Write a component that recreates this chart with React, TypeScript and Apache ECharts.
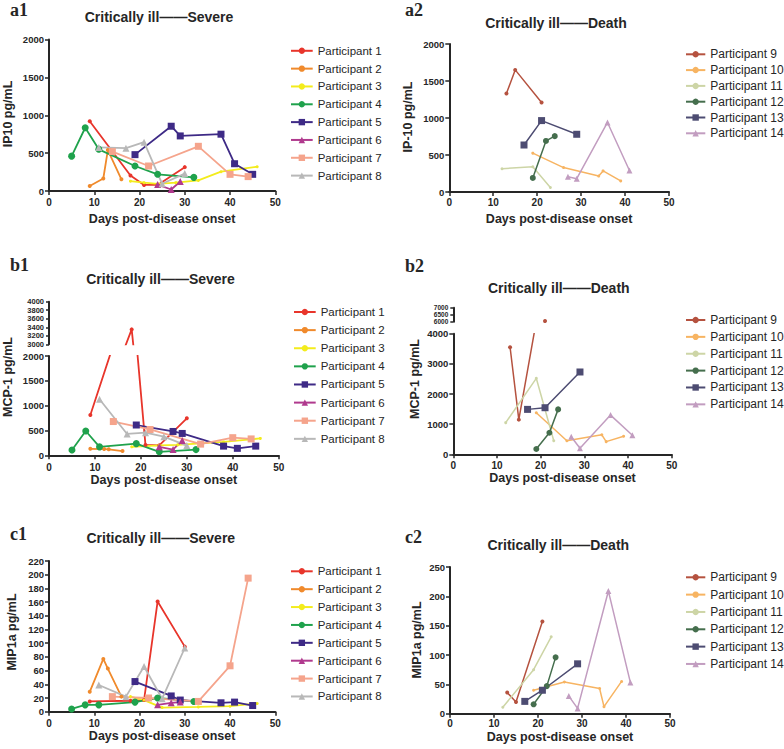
import React, { useEffect, useRef } from 'react';
import * as echarts from 'echarts';

// ---------------- data ----------------
const severeParticipants = ['Participant 1', 'Participant 2', 'Participant 3', 'Participant 4', 'Participant 5', 'Participant 6', 'Participant 7', 'Participant 8'];
const deathParticipants = ['Participant 9', 'Participant 10', 'Participant 11', 'Participant 12', 'Participant 13', 'Participant 14'];

// [day post-disease onset, pg/mL]
const ip10Severe: number[][][] = [
  [[9, 920], [18, 205], [21, 80], [24, 80], [30, 315]],
  [[9, 66], [12, 165], [13, 540], [16, 155]],
  [[18, 130], [21, 110], [24, 95], [28, 110], [33, 140], [38, 255], [46, 320]],
  [[5, 460], [8, 835], [11, 550], [19, 330], [24, 220], [32, 180]],
  [[19, 480], [27, 855], [29, 727], [38, 750], [41, 360], [45, 220]],
  [[24, 85], [27, 20], [29, 125]],
  [[14, 520], [22, 330], [33, 590], [40, 220], [44, 190]],
  [[11, 575], [17, 565], [21, 645], [25, 95], [30, 230]],
];
const ip10Death: number[][][] = [
  [[13, 1330], [15, 1650], [21, 1210]],
  [[19, 525], [26, 330], [34, 215], [35, 285], [39, 150]],
  [[12, 315], [19, 340], [23, 60]],
  [[19, 190], [22, 690], [24, 755]],
  [[17, 635], [21, 965], [29, 780]],
  [[27, 205], [29, 180], [36, 940], [41, 290]],
];
const mcp1Severe: number[][][] = [
  [[9, 810], [18, 3350], [21, 210], [24, 200], [30, 745]],
  [[9, 130], [12, 125], [13, 120], [16, 85]],
  [[18, 170], [24, 200], [28, 210], [33, 240], [38, 270], [46, 340]],
  [[5, 105], [8, 490], [11, 170], [19, 235], [24, 70], [32, 115]],
  [[19, 610], [27, 480], [29, 440], [38, 185], [41, 140], [45, 185]],
  [[24, 170], [27, 115], [29, 300]],
  [[14, 680], [22, 520], [33, 225], [40, 355], [44, 330]],
  [[11, 1130], [17, 430], [21, 455], [25, 375], [30, 195]],
];
const mcp1Death: number[][][] = [
  [[13, 3550], [15, 1150], [21, 6050]],
  [[19, 1380], [26, 450], [34, 645], [35, 420], [39, 600]],
  [[12, 1050], [19, 2520], [23, 450]],
  [[19, 175], [22, 715], [24, 1490]],
  [[17, 1490], [21, 1545], [29, 2730]],
  [[27, 580], [29, 200], [36, 1300], [41, 630]],
];
const mip1aSevere: number[][][] = [
  [[9, 15], [18, 16], [21, 17], [24, 161], [30, 95]],
  [[9, 29], [12, 77], [13, 63], [16, 22]],
  [[18, 22], [21, 17], [25, 6], [33, 7], [40, 8], [46, 12]],
  [[5, 4], [8, 10], [11, 10], [19, 14], [24, 20], [32, 15]],
  [[19, 44], [27, 23], [29, 17], [38, 13], [41, 14], [45, 9]],
  [[24, 10], [27, 13], [29, 14]],
  [[14, 22], [22, 20], [33, 15], [40, 67], [44, 195]],
  [[11, 39], [17, 22], [21, 66], [25, 19], [30, 93]],
];
const mip1aDeath: number[][][] = [
  [[13, 36], [15, 20], [21, 157]],
  [[19, 40], [26, 54], [34, 43], [35, 12], [39, 55]],
  [[12, 11], [19, 75], [23, 131]],
  [[19, 16], [22, 47], [24, 96]],
  [[17, 21], [21, 40], [29, 85]],
  [[27, 30], [29, 9], [36, 209], [41, 53]],
];

// axis scales [min, max, step]
const dayScale = [0, 50, 10];
const ip10Scale = [0, 2000, 500];
const mcp1SevereLow = [0, 2000, 500];
const mcp1SevereHigh = [3000, 4000, 200];
const mcp1DeathLow = [0, 4000, 1000];
const mcp1DeathHigh = [6000, 7000, 500];
const mip1aSevereScale = [0, 220, 20];
const mip1aDeathScale = [0, 250, 50];

// texts
const titleSevere = 'Critically ill——Severe';
const titleDeath = 'Critically ill——Death';
const xAxisTitle = 'Days post-disease onset';
const panelLabels = ['a1', 'a2', 'b1', 'b2', 'c1', 'c2'];
const yTitles = ['IP10 pg/mL', 'IP-10 pg/mL', 'MCP-1 pg/mL', 'MCP-1 pg/mL', 'MIP1a pg/mL', 'MIP1a pg/mL'];

// ---------------- styles ----------------
const FONT = "'Liberation Sans', Arial, Helvetica, sans-serif";
const SERIF = "'Liberation Serif', 'Times New Roman', serif";
const INK = '#262626';

const severeColors = ['#e8352b', '#f08a2c', '#f3ec1c', '#1fa24c', '#3e2a86', '#b03a8e', '#f5a48c', '#b8b8b8'];
const severeSymbols = ['circle', 'circle', 'circle', 'circle', 'rect', 'triangle', 'rect', 'triangle'];
const severeSizes = [4, 4, 3, 7, 7, 7, 7, 7];
const deathColors = ['#b5523f', '#f7b462', '#cdd5a6', '#456e4d', '#4d4c72', '#c29dc0'];
const deathSymbols = ['circle', 'circle', 'circle', 'circle', 'rect', 'triangle'];
const deathSizes = [4, 3, 3, 6, 7, 6];

const grids = [
  { left: 49, top: 39.5, width: 226.3, height: 151.5 },
  { left: 449.3, top: 44, width: 219.7, height: 148 },
  { left: 49, top: 356, width: 229.7, height: 99.3 },
  { left: 49, top: 301.7, width: 229.7, height: 42.6 },
  { left: 453.3, top: 333.7, width: 218.4, height: 120.6 },
  { left: 453.3, top: 307.7, width: 218.4, height: 14 },
  { left: 49, top: 561, width: 226.3, height: 150.7 },
  { left: 450, top: 567, width: 220, height: 146.7 },
];

const plain = (v: number) => String(v);

function xAxis(gridIndex: number, show: boolean, nameGap: number, labelMargin: number) {
  return {
    type: 'value', gridIndex, min: dayScale[0], max: dayScale[1], interval: dayScale[2], show,
    name: show ? xAxisTitle : '', nameLocation: 'middle', nameGap,
    nameTextStyle: { fontFamily: FONT, fontWeight: 'bold', fontSize: 12.5, color: INK },
    axisLine: { show: true, onZero: false, lineStyle: { color: INK, width: 2 } },
    axisTick: { show: true, inside: false, length: 4, lineStyle: { color: INK, width: 1.5 } },
    axisLabel: { show: true, margin: labelMargin, fontFamily: FONT, fontWeight: 'bold', fontSize: 10, color: INK, formatter: plain },
    splitLine: { show: false },
  };
}

function yAxis(gridIndex: number, scale: number[], labelSize = 9.5, tickLen = 4) {
  return {
    type: 'value', gridIndex, min: scale[0], max: scale[1], interval: scale[2],
    axisLine: { show: true, onZero: false, lineStyle: { color: INK, width: 2 } },
    axisTick: { show: true, inside: false, length: tickLen, lineStyle: { color: INK, width: 1.5 } },
    axisLabel: {
      margin: 5, fontFamily: FONT, fontWeight: 'bold', fontSize: labelSize, color: INK,
      hideOverlap: false, showMinLabel: true, showMaxLabel: true, formatter: plain,
    },
    splitLine: { show: false },
  };
}

function makeSeries(names: string[], data: number[][][], colors: string[], symbols: string[], sizes: number[], width: number, axisIndex: number) {
  return names.map((name, i) => ({
    type: 'line', name, data: data[i], xAxisIndex: axisIndex, yAxisIndex: axisIndex,
    symbol: symbols[i], symbolSize: sizes[i], showSymbol: true, clip: true,
    color: colors[i],
    itemStyle: { color: colors[i] },
    lineStyle: { color: colors[i], width },
    emphasis: { disabled: true },
  }));
}

function makeLegend(names: string[], left: number, top: number, itemWidth: number, itemGap: number, fontSize: number) {
  return {
    orient: 'vertical', left, top, padding: 0, itemWidth, itemHeight: 8, itemGap,
    selectedMode: false, data: names,
    textStyle: { fontSize, fontFamily: FONT, color: INK },
  };
}

function label(text: string, x: number, y: number, size: number, weight: string, family: string, align: string, rotation = 0) {
  return {
    type: 'text', x, y, rotation, silent: true,
    style: {
      text, fill: INK, fontSize: size, fontWeight: weight, fontFamily: family,
      align, verticalAlign: 'middle', textAlign: align, textVerticalAlign: 'middle',
    },
  };
}

function buildOption() {
  const sevS = (data: number[][][], idx: number) => makeSeries(severeParticipants, data, severeColors, severeSymbols, severeSizes, 1.8, idx);
  const deaS = (data: number[][][], idx: number) => makeSeries(deathParticipants, data, deathColors, deathSymbols, deathSizes, 1.5, idx);
  return {
    animation: false,
    backgroundColor: '#ffffff',
    grid: grids,
    xAxis: [
      xAxis(0, true, 21.5, 6.5),
      xAxis(1, true, 20, 5.5),
      xAxis(2, true, 15, 7),
      xAxis(3, false, 0, 0),
      xAxis(4, true, 15, 6),
      xAxis(5, false, 0, 0),
      xAxis(6, true, 18, 6.5),
      xAxis(7, true, 16.5, 5),
    ],
    yAxis: [
      yAxis(0, ip10Scale),
      yAxis(1, ip10Scale),
      yAxis(2, mcp1SevereLow),
      yAxis(3, mcp1SevereHigh, 7.5, 3),
      yAxis(4, mcp1DeathLow),
      yAxis(5, mcp1DeathHigh, 6.5, 3),
      yAxis(6, mip1aSevereScale),
      yAxis(7, mip1aDeathScale),
    ],
    legend: [
      makeLegend(severeParticipants, 290, 44.8, 21.7, 5.83, 11.5),
      makeLegend(deathParticipants, 685, 48.3, 19.3, 3.8, 12),
      makeLegend(severeParticipants, 293, 306, 21.7, 6.12, 11.5),
      makeLegend(deathParticipants, 685, 314, 19.3, 4.87, 12),
      makeLegend(severeParticipants, 290, 565.3, 21.7, 5.88, 11.5),
      makeLegend(deathParticipants, 685, 571.3, 19.3, 5.33, 12),
    ],
    series: [
      ...sevS(ip10Severe, 0),
      ...deaS(ip10Death, 1),
      ...sevS(mcp1Severe, 2),
      ...sevS(mcp1Severe, 3),
      ...deaS(mcp1Death, 4),
      ...deaS(mcp1Death, 5),
      ...sevS(mip1aSevere, 6),
      ...deaS(mip1aDeath, 7),
    ],
    graphic: [
      label(titleSevere, 159, 17.3, 14, 'bold', FONT, 'center'),
      label(titleDeath, 556, 23.3, 14, 'bold', FONT, 'center'),
      label(titleSevere, 160.5, 279, 14, 'bold', FONT, 'center'),
      label(titleDeath, 558.8, 287.7, 14, 'bold', FONT, 'center'),
      label(titleSevere, 160.8, 537.7, 14, 'bold', FONT, 'center'),
      label(titleDeath, 558.3, 545, 14, 'bold', FONT, 'center'),
      label(panelLabels[0], 10, 9.5, 18, 'bold', SERIF, 'left'),
      label(panelLabels[1], 405, 9.5, 18, 'bold', SERIF, 'left'),
      label(panelLabels[2], 10, 265, 18, 'bold', SERIF, 'left'),
      label(panelLabels[3], 405, 266, 18, 'bold', SERIF, 'left'),
      label(panelLabels[4], 10, 534, 18, 'bold', SERIF, 'left'),
      label(panelLabels[5], 405, 536.7, 18, 'bold', SERIF, 'left'),
      label(yTitles[0], 8.3, 114, 12.5, 'bold', FONT, 'center', Math.PI / 2),
      label(yTitles[1], 408.3, 117, 12.5, 'bold', FONT, 'center', Math.PI / 2),
      label(yTitles[2], 8.3, 377, 12.5, 'bold', FONT, 'center', Math.PI / 2),
      label(yTitles[3], 415, 379, 12.5, 'bold', FONT, 'center', Math.PI / 2),
      label(yTitles[4], 12.3, 632, 12.5, 'bold', FONT, 'center', Math.PI / 2),
      label(yTitles[5], 416.7, 640, 12.5, 'bold', FONT, 'center', Math.PI / 2),
    ],
  };
}

export default function App() {
  const ref = useRef<HTMLDivElement>(null);
  useEffect(() => {
    if (!ref.current) return;
    const chart = echarts.init(ref.current, null, { renderer: 'svg' });
    chart.setOption(buildOption() as any);
    return () => chart.dispose();
  }, []);
  return (
    <div
      ref={ref}
      style={{ position: 'fixed', left: 0, top: 0, width: 784, height: 749, background: '#ffffff' }}
    />
  );
}
